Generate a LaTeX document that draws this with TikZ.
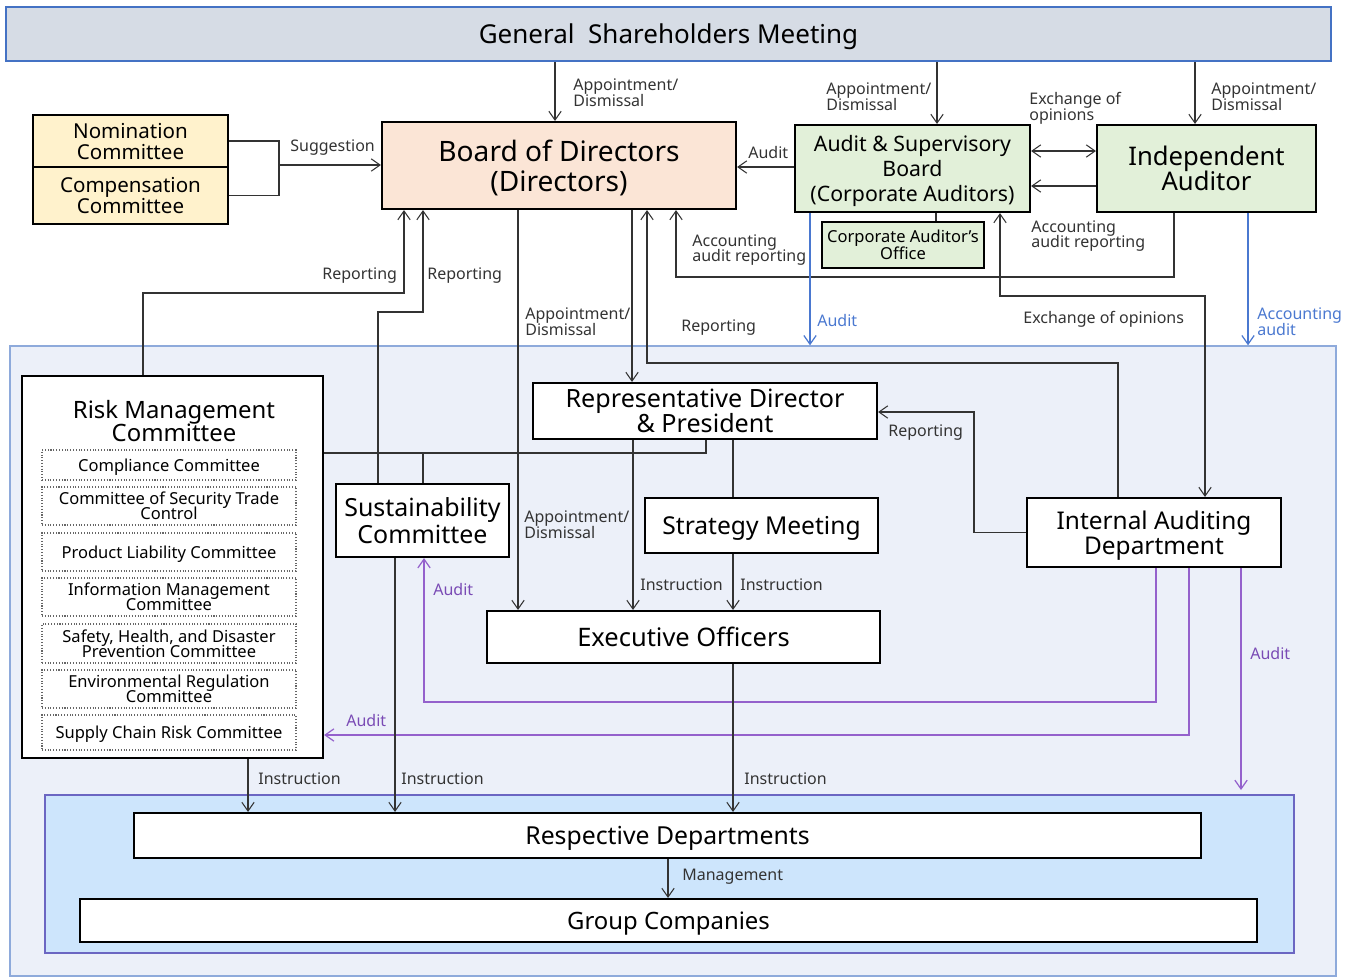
\documentclass[tikz,border=0pt]{standalone}
\usepackage{fontspec}
\setmainfont{Noto Sans}
\usetikzlibrary{arrows.meta}
\newcommand\fsz[2]{\fontsize{#1}{#2}\selectfont\lineskiplimit=-30pt\relax}
\definecolor{gsmfill}{HTML}{D6DCE5}
\definecolor{gsmline}{HTML}{4472C4}
\definecolor{bodfill}{HTML}{FBE5D6}
\definecolor{yel}{HTML}{FFF2CC}
\definecolor{grn}{HTML}{E2F0D9}
\definecolor{outerbg}{HTML}{ECF0F9}
\definecolor{outerline}{HTML}{8EAADB}
\definecolor{innerbg}{HTML}{CDE5FC}
\definecolor{innerline}{HTML}{6B66C2}
\definecolor{bluearr}{HTML}{4A78D0}
\definecolor{purp}{HTML}{9461CC}
\definecolor{purptext}{HTML}{7A4BB5}
\definecolor{lbltext}{HTML}{333333}
\begin{document}
\begin{tikzpicture}[x=0.02cm,y=-0.02cm,
  rect/.style n args={4}{at={({(#1+#3)/2},{(#2+#4)/2})}, minimum width={(#3-#1)*0.02cm}, minimum height={(#4-#2)*0.02cm}},
  region/.style={inner sep=0pt, line width=0.8pt},
  box/.style={draw=black, line width=1.2pt, fill=white, inner sep=0pt, align=center, text=black, text depth=0pt},
  subbox/.style={draw=black!60, densely dotted, line width=0.6pt, fill=white, inner sep=0pt, align=center, text=black, text depth=0pt, font=\fsz{9.4}{8.6}},
  conn/.style={draw=black!80, line width=0.6pt},
  arr/.style={conn, -{Straight Barb[length=5pt,width=7pt]}},
  arrtwo/.style={conn, {Straight Barb[length=5pt,width=7pt]}-{Straight Barb[length=5pt,width=7pt]}},
  barr/.style={draw=bluearr, line width=0.7pt, -{Straight Barb[length=5pt,width=7pt]}},
  parr/.style={draw=purp, line width=0.7pt, -{Straight Barb[length=5pt,width=7pt]}},
  lbl/.style={font=\fsz{9.1}{9}, text=lbltext, inner sep=0pt, anchor=west, align=left},
  blbl/.style={lbl, text=bluearr},
  plbl/.style={lbl, text=purptext}
]
\useasboundingbox (0,0) rectangle (1355,978);
% regions
\node[region, fill=outerbg, draw=outerline, rect={10}{346}{1336}{976}] (outer) {};
\node[region, fill=innerbg, draw=innerline, line width=1.2pt, rect={45}{795}{1294}{953}] (inner) {};
% top boxes
\node[box, fill=gsmfill, draw=gsmline, rect={6}{7}{1331}{61}, font=\fsz{14.8}{16}] (gsm) {General\ \ Shareholders Meeting};
\node[box, fill=yel, rect={33}{115}{228}{167}, font=\fsz{11.7}{12}] (nom) {Nomination\\Committee};
\node[box, fill=yel, rect={33}{167}{228}{224}, font=\fsz{11.7}{12}] (comp) {Compensation\\Committee};
\node[box, fill=bodfill, rect={382}{122}{736}{209}, font=\fsz{16}{17}] (bod) {Board of Directors\\(Directors)};
\node[box, fill=grn, rect={795}{125}{1030}{212}, font=\fsz{12.1}{14.2}] (asb) {Audit \& Supervisory\\Board\\(Corporate Auditors)};
\node[box, fill=grn, rect={1097}{125}{1316}{212}, font=\fsz{14.6}{14.5}] (ia) {Independent\\Auditor};
\node[box, fill=grn, rect={822}{222}{984}{268}, font=\fsz{9.4}{9.5}] (office) {Corporate Auditor’s\\Office};
% risk management
\node[box, rect={22}{376}{323}{758}] (risk) {};
\node[inner sep=0pt, align=center, font=\fsz{13.6}{13}] (risktitle) at (174,421) {Risk Management\\Committee};
\node[subbox, rect={42}{450}{296}{480}] (s1) {Compliance Committee};
\node[subbox, rect={42}{487}{296}{525}] (s2) {Committee of Security Trade\\Control};
\node[subbox, rect={42}{533}{296}{571}] (s3) {Product Liability Committee};
\node[subbox, rect={42}{578}{296}{616}] (s4) {Information Management\\Committee};
\node[subbox, rect={42}{624}{296}{663}] (s5) {Safety, Health, and Disaster\\Prevention Committee};
\node[subbox, rect={42}{670}{296}{708}] (s6) {Environmental Regulation\\Committee};
\node[subbox, rect={42}{715}{296}{750}] (s7) {Supply Chain Risk Committee};
% middle
\node[box, rect={336}{484}{509}{557}, font=\fsz{14.2}{15.3}] (sust) {Sustainability\\Committee};
\node[box, rect={533}{383}{877}{439}, font=\fsz{14.3}{14.2}] (rep) {Representative Director\\\& President};
\node[box, rect={645}{498}{878}{553}, font=\fsz{14}{15}] (strat) {Strategy Meeting};
\node[box, rect={487}{611}{880}{663}, font=\fsz{14.5}{15}] (exec) {Executive Officers};
\node[box, rect={1027}{498}{1281}{567}, font=\fsz{13.9}{14.2}] (iad) {Internal Auditing\\Department};
\node[box, rect={134}{813}{1201}{858}, font=\fsz{14.1}{15}] (resp) {Respective Departments};
\node[box, rect={80}{899}{1257}{942}, font=\fsz{13.6}{15}] (grp) {Group Companies};
% connectors top
\draw[arr] (gsm.south -| 555,0) -- (bod.north -| 555,0);
\draw[arr] (gsm.south -| 937,0) -- (asb.north -| 937,0);
\draw[arr] (gsm.south -| 1195,0) -- (ia.north -| 1195,0);
\draw[conn] (nom.east) -- (279,0 |- nom.east) |- (comp.east);
\coordinate (sug) at (279,165);
\draw[arr] (sug) -- (sug -| bod.west);
\draw[arr] (asb.west |- 0,167) -- (bod.east |- 0,167);
\draw[arrtwo] (asb.east |- 0,151) -- (ia.west |- 0,151);
\draw[arr] (ia.west |- 0,186) -- (asb.east |- 0,186);
\draw[conn] (asb.south -| 936,0) -- (office.north -| 936,0);
\draw[arr] (ia.south -| 1174,0) |- (676,277) -- (bod.south -| 676,0);
\draw[arrtwo] (asb.south -| 1000,0) |- (1205,296) -- (iad.north -| 1205,0);
\draw[barr] (asb.south -| 810,0) -- (outer.north -| 810,0);
\draw[barr] (ia.south -| 1248,0) -- (outer.north -| 1248,0);
% reporting to board
\draw[arr] (risk.north -| 143,0) |- (404,293) -- (bod.south -| 404,0);
\draw[arr] (sust.north -| 378,0) |- (423,312) -- (bod.south -| 423,0);
\draw[arr] (bod.south -| 518,0) -- (exec.north -| 518,0);
\draw[arr] (bod.south -| 632,0) -- (rep.north -| 632,0);
\draw[arr] (iad.north -| 1118,0) |- (647,363) -- (bod.south -| 647,0);
% representative director
\draw[conn] (rep.south -| 706,0) |- (risk.east |- 0,453);
\coordinate (j1) at (423,453);
\draw[conn] (j1) -- (sust.north -| j1);
\draw[conn] (rep.south -| 733,0) -- (strat.north -| 733,0);
\draw[arr] (rep.south -| 633,0) -- (exec.north -| 633,0);
\draw[arr] (strat.south -| 733,0) -- (exec.north -| 733,0);
\draw[arr] (iad.west) -- (974,0 |- iad.west) |- (rep.east |- 0,412);
% internal audit
\draw[parr] (iad.south -| 1156,0) |- (424,702) -- (sust.south -| 424,0);
\draw[parr] (iad.south -| 1189,0) |- (risk.east |- 0,735);
\coordinate (aend) at (1241,790);
\draw[parr] (iad.south -| 1241,0) -- (aend);
% instructions
\draw[arr] (risk.south -| 248,0) -- (resp.north -| 248,0);
\draw[arr] (sust.south -| 395,0) -- (resp.north -| 395,0);
\draw[arr] (exec.south -| 733,0) -- (resp.north -| 733,0);
\draw[arr] (resp.south -| 668,0) -- (grp.north -| 668,0);
% labels
\node[lbl] (la1) at (573,93) {Appointment/\\Dismissal};
\node[lbl] (la2) at (826,97) {Appointment/\\Dismissal};
\node[lbl] (la3) at (1211,97) {Appointment/\\Dismissal};
\node[lbl] (lex) at (1029,108) {Exchange of\\opinions};
\node[lbl] (lsug) at (290,148) {Suggestion};
\node[lbl] (laud) at (748,152) {Audit};
\node[lbl] (lacc1) at (692,250) {Accounting\\audit reporting};
\node[lbl] (lacc2) at (1031,236) {Accounting\\audit reporting};
\node[lbl] (lrep1) at (322,276) {Reporting};
\node[lbl] (lrep2) at (427,276) {Reporting};
\node[lbl] (la4) at (525,322) {Appointment/\\Dismissal};
\node[lbl] (lrep3) at (681,328) {Reporting};
\node[blbl] (lbaud) at (817,320) {Audit};
\node[lbl] (lex2) at (1023,319) {Exchange of opinions};
\node[blbl] (lbacc) at (1257,322) {Accounting\\audit};
\node[lbl] (lrep4) at (888,433) {Reporting};
\node[lbl] (la5) at (524,525) {Appointment/\\Dismissal};
\node[lbl] (li1) at (640,585) {Instruction};
\node[lbl] (li2) at (740,585) {Instruction};
\node[plbl] (lp1) at (433,589) {Audit};
\node[plbl] (lp2) at (1250,653) {Audit};
\node[plbl] (lp3) at (346,720) {Audit};
\node[lbl] (li3) at (258,779) {Instruction};
\node[lbl] (li4) at (401,779) {Instruction};
\node[lbl] (li5) at (744,779) {Instruction};
\node[lbl] (lman) at (682,877) {Management};
\end{tikzpicture}
\end{document}
